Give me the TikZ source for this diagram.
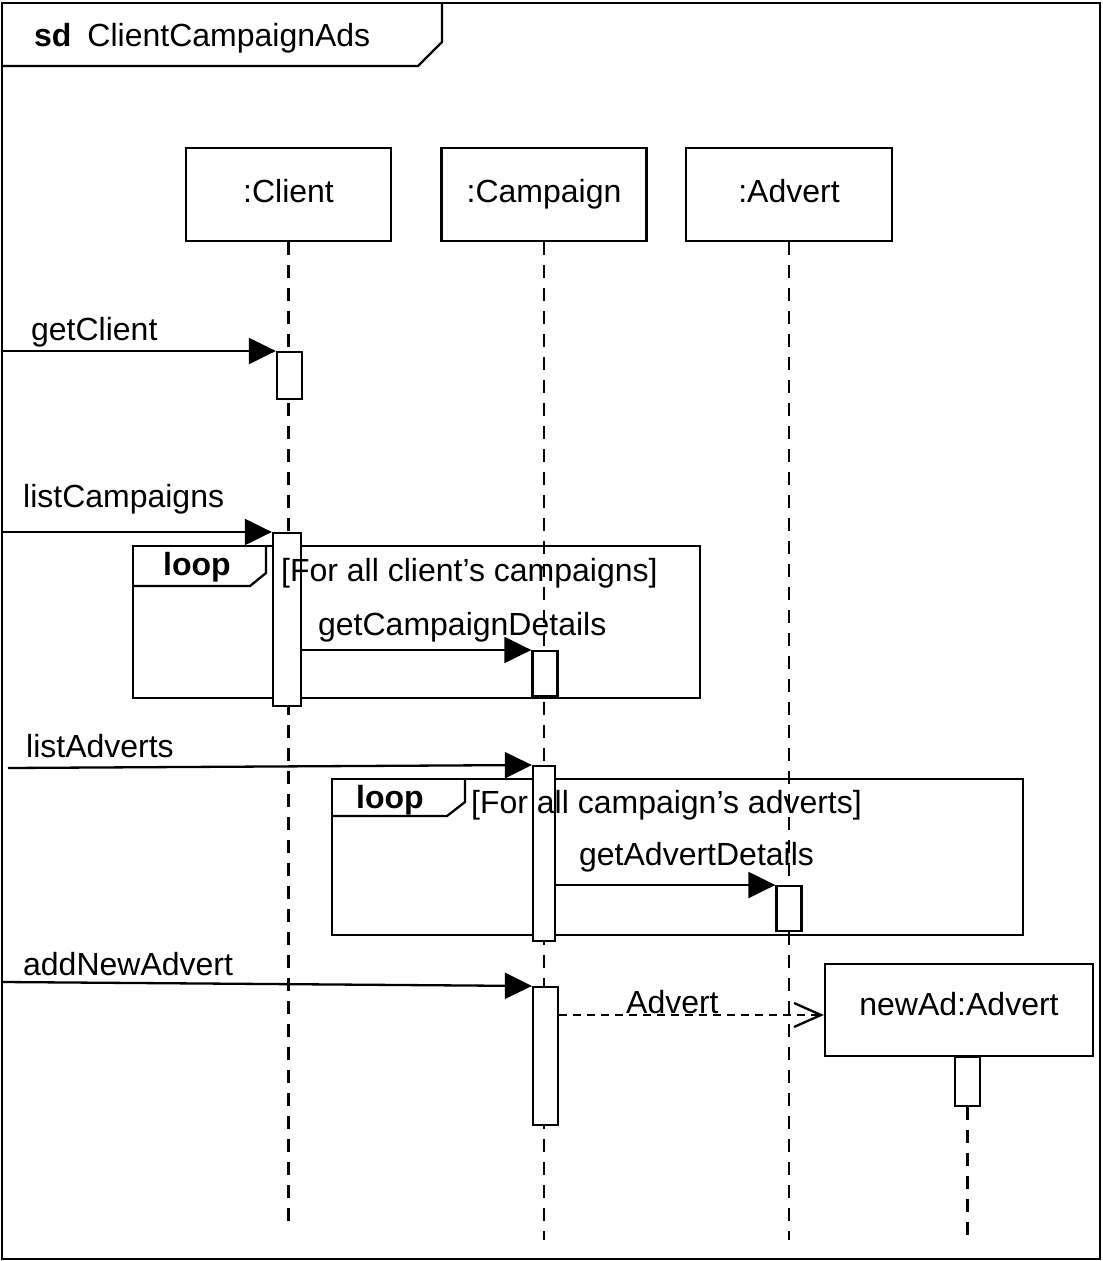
\documentclass[tikz,border=0pt]{standalone}
\usepackage{fontspec}
\setmainfont{Liberation Sans}
\usetikzlibrary{arrows.meta}

\begin{document}
\begin{tikzpicture}[x=0.5pt,y=-0.5pt,line width=1.15pt,
    every node/.style={font=\fontsize{16}{19}\selectfont},
    head/.style={draw,minimum width=102.5pt,minimum height=46.5pt,inner sep=0pt,text height=12pt,text depth=3.5pt},
    act/.style={draw,fill=white,inner sep=0pt,minimum width=12.5pt,anchor=north},
    lifeline/.style={dash pattern=on 6.5pt off 5pt},
    msg/.style={-{Triangle[length=13.5pt,width=13pt]}},
    create/.style={dash pattern=on 4pt off 3pt,-{Straight Barb[length=13.5pt,width=12pt]}},
    lbl/.style={anchor=base west,inner sep=0pt}]

            \useasboundingbox (0,0) rectangle (1102,1261);

            \draw[line width=1.3pt] (2,3) rectangle (1100,1259);
            \draw (2,66) -- (418,66) -- (442,42) -- (442,3);
            \node[lbl] (sdTitle) at (33,47) {{\bfseries sd}\hspace{8pt}ClientCampaignAds};

            \node[head] (client) at (288.5,194.5) {:Client};
            \node[head] (campaign) at (544,194.5) {:Campaign};
            \node[head,minimum width=103pt] (advert) at (789,194.5) {:Advert};
            \node[head,minimum width=134pt,minimum height=46pt,text depth=7pt] (newAd) at (959,1010) {newAd:Advert};

            \coordinate (clientEnd) at (288.5,1230);
            \coordinate (campaignEnd) at (544,1240);
            \coordinate (advertEnd) at (789,1240);
            \coordinate (newAdEnd) at (967.5,1235);

            \draw[lifeline] (client.south) -- (clientEnd);
            \draw[lifeline] (campaign.south) -- (campaignEnd);
            \draw[lifeline] (advert.south) -- (advertEnd);

            \draw (133,546) rectangle (700,698);
            \draw (133,586) -- (250,586) -- (266,573) -- (266,546);
            \draw (332,779) rectangle (1023,935);
            \draw (332,816) -- (447,816) -- (465,802) -- (465,779);

            \node[act,minimum height=23.5pt] (actA) at (289.5,351) {};
            \node[act,minimum height=86.5pt,minimum width=14pt] (actB) at (287,532) {};
            \node[act,minimum height=22.5pt] (actC) at (545,650) {};
            \node[act,minimum height=87.5pt,minimum width=11pt] (actD) at (544,765) {};
            \node[act,minimum height=22.5pt] (actE) at (789,885) {};
            \node[act,minimum height=69pt] (actF) at (545.5,986) {};
            \node[act,minimum height=24.5pt] (actG) at (967.5,1056) {};
            \draw[lifeline] (actG.south) -- (newAdEnd);

            \coordinate (inGetClient) at (3,351);
            \coordinate (inListCampaigns) at (3,532);
            \coordinate (inListAdverts) at (8,768);
            \coordinate (inAddNewAdvert) at (3,982);

            \draw[msg] (inGetClient) -- (actA.north west);
            \draw[msg] (inListCampaigns) -- (actB.north west);
            \draw[msg] (actB.east |- actC.north) -- (actC.north west);
            \draw[msg] (inListAdverts) -- (actD.north west);
            \draw[msg] (actD.east |- actE.north) -- (actE.north west);
            \draw[msg] (inAddNewAdvert) -- (actF.north west);
            \draw[create] (actF.east |- 0,1015) -- (newAd.west |- 0,1015);

            \node[lbl] (getClientLbl) at (30,341) {getClient};
            \node[lbl] (listCampaignsLbl) at (22,507) {listCampaigns};
            \node[lbl] (getCampaignDetailsLbl) at (317,635) {getCampaignDetails};
            \node[lbl] (listAdvertsLbl) at (25,757) {listAdverts};
            \node[lbl] (getAdvertDetailsLbl) at (578,865) {getAdvertDetails};
            \node[lbl] (addNewAdvertLbl) at (22,975) {addNewAdvert};
            \node[lbl] (advertLbl) at (625,1013) {Advert};

            \node[lbl] (loopOne) at (162,575) {\bfseries loop};
            \node[lbl] (guardOne) at (280,581) {[For all client’s campaigns]};
            \node[lbl] (loopTwo) at (355,808) {\bfseries loop};
            \node[lbl] (guardTwo) at (470,813) {[For all campaign’s adverts]};

          \end{tikzpicture}
\end{document}
